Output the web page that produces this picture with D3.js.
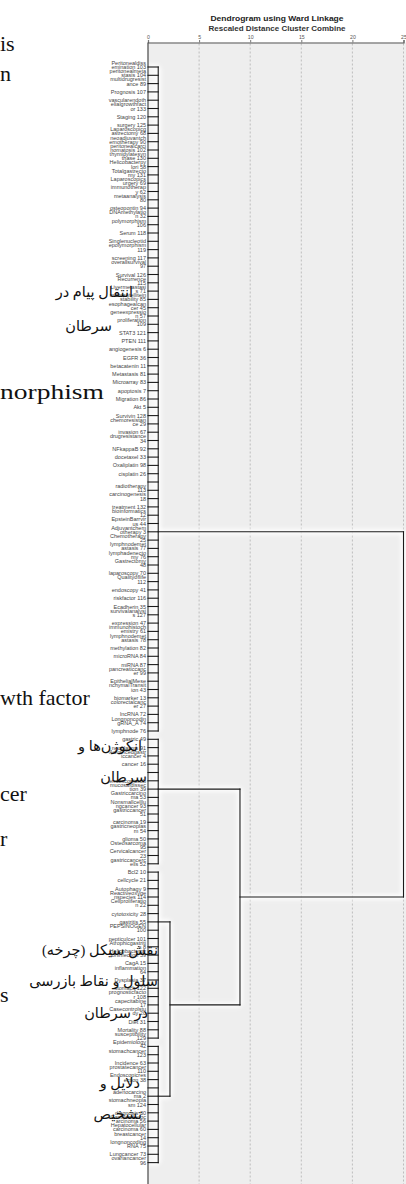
<!DOCTYPE html>
<html><head><meta charset="utf-8">
<script src="https://cdn.jsdelivr.net/npm/d3@7/dist/d3.min.js"></script>
<style>
body{margin:0;background:#fff;overflow:hidden}
svg{display:block}
</style>
</head><body>
<svg id="chart" width="406" height="1184"></svg>
<script>
// ---------------- DATA ----------------
const chartTitle = "Dendrogram using Ward Linkage";
const chartSubtitle = "Rescaled Distance Cluster Combine";
const tickValues = [0, 5, 10, 15, 20, 25];

// leaf labels in dendrogram order (top to bottom); "" = unlabeled row
const leafLabels = [
 "Peritonealdissemination 103","peritonealmetastasis 104","multidrugresistance 89","Prognosis 107","",
 "vascularendothelialgrowthfactor 133","Staging 120","surgery 125","Laparoscopicgastrectomy 68","neoadjuvantchemotherapy 90",
 "peritonealcarcinomatosis 102","thymidylatesynthase 130","Helicobacterpylori 58","Totalgastrectomy 131","Laparoscopicsurgery 69",
 "immunotherapy 62","metaanalysis 80","osteopontin 94","DNAmethylation 32","polymorphism 106",
 "Serum 118","","Singlenucleotidepolymorphism 119","screening 117","overallsurvival 97",
 "Survival 126","Recurrence 115","Livermetastasis 71","microsatelliteinstability 85","esophagealcancer 45",
 "geneexpression 57","proliferation 109","STAT3 121","PTEN 111","angiogenesis 6",
 "EGFR 36","betacatenin 11","Metastasis 81","Microarray 83","apoptosis 7",
 "Migration 86","Akt 5","Survivin 128","chemoresistance 29","invasion 67",
 "drugresistance 34","NFkappaB 92","docetaxel 33","Oxaliplatin 98","cisplatin 26",
 "","radiotherapy 113","carcinogenesis 18","treatment 132","bioinformatics 12",
 "EpsteinBarrvirus 44","Adjuvantchemotherapy 3","Chemotherapy 25","lymphnodemetastasis 77","lymphadenectomy 76",
 "Gastrectomy 48","laparoscopy 70","Qualityoflife 112","endoscopy 41","riskfactor 116",
 "Ecadherin 35","survivalanalysis 127","expression 47","immunohistochemistry 61","lymphnodemetastasis 78",
 "methylation 82","microRNA 84","miRNA 87","pancreaticcancer 99","",
 "EpithelialMesenchymalTransition 43","biomarker 13","colorectalcancer 27","lncRNA 72","LongnoncodingRNA_A 74",
 "lymphnode 76",
 "gastric 49","neoplasms 91","Advancedgastriccancer 4","cancer 16","",
 "","endoscopicsubmucosaldissection 39","Gastriccarcinoma 53","Nonsmallcelllungcancer 93","gastriccancer 51",
 "carcinoma 19","gastricneoplasm 54","glioma 50","Osteosarcoma 95","Cervicalcancer 23",
 "gastriccancercells 52",
 "Bcl2 10","cellcycle 21","Autophagy 9","Reactiveoxygenspecies 114","Cellproliferation 22",
 "cytotoxicity 28","gastritis 55","PEPSINOGEN 100","pepticulcer 101","Atrophicgastritis 8",
 "Helicobacterpyloriinfection 59","CagA 15","inflammation 64","Dysplasia 37","stomach 122",
 "prognosticfactor 108","capecitabine 17","Casecontrolstudy 20","Diet 31","Mortality 88",
 "susceptibility 129",
 "Epidemiology 42","stomachcancer 123","Incidence 63","prostatecancer 110","Endoscopicresection 38",
 "","adenocarcinoma 2","stomachneoplasm 124","diagnosis 30","Gastricadenocarcinoma 56",
 "Hepatocellularcarcinoma 60","breastcancer 14","longnoncodingRNA 75","Lungcancer 73","ovariancancer 96"
];

// leaf clusters (first / last leaf row, merge distance, row of the joining line)
const groupNames    = ["G1", "G2", "G3", "G4"];
const groupFirst    = [0, 81, 97, 118];
const groupLast     = [80, 96, 117, 132];
const groupHeight   = [1.0, 1.0, 1.0, 1.0];
const groupJoinRow  = [56, 87, 103, 124];

// higher merges
const mergeNames    = ["B2", "B", "root"];
const mergeChildren = [["G3","G4"], ["G2","B2"], ["G1","B"]];
const mergeHeight   = [2.15, 9.0, 25];
const mergeJoinRow  = [113, 100, null];

// surrounding document text fragments (row = vertical position in leaf rows)
const latinFragments = [
 {t:"is", row:-2.8, len:0}, {t:"n", row:0.8, len:0}, {t:"norphism", row:39.2, len:104},
 {t:"wth factor", row:76, len:0}, {t:"cer", row:87.6, len:0}, {t:"r", row:93, len:0}, {t:"s", row:111.8, len:0}
];
const persianFragments = [
 {t:"انتقال پیام در", row:27.1, r:133},
 {t:"سرطان", row:31.1, r:112},
 {t:"انکوژن‌ها و", row:81.8, r:142},
 {t:"سرطان", row:85.5, r:147},
 {t:"نقش سیکل (چرخه)", row:106.3, r:158},
 {t:"سلول و نقاط بازرسی", row:110.1, r:158},
 {t:"در سرطان", row:113.9, r:148},
 {t:"دلایل و", row:122.4, r:140},
 {t:"تشخیص", row:126.1, r:142}
];

// ---------------- DRAW ----------------
const W = 406, H = 1184;
const svg = d3.select("#chart");
const x = d3.scaleLinear().domain([0, 25]).range([148, 403.5]);
const y = d3.scaleLinear().domain([0, leafLabels.length - 1]).range([67, 1162.6]);
const plotTop = 42.5;

const defs = svg.append("defs");
const blur = defs.append("filter").attr("id","glow").attr("x","-50%").attr("y","-50%").attr("width","200%").attr("height","200%");
blur.append("feGaussianBlur").attr("stdDeviation", 2.2);

// plot background
svg.append("rect").attr("x", x(0)).attr("y", plotTop).attr("width", W - x(0)).attr("height", H - plotTop)
  .attr("fill", "#eeeeee");

// grid lines
svg.append("g").selectAll("line").data(tickValues.filter(d => d > 0)).join("line")
  .attr("x1", d => x(d)).attr("x2", d => x(d)).attr("y1", plotTop + 1).attr("y2", H)
  .attr("stroke", "#bdbdbd").attr("stroke-width", 1).attr("stroke-dasharray", "2,2");

// titles
svg.append("text").attr("x", 277).attr("y", 20.5).attr("text-anchor","middle")
  .attr("font-family","'Liberation Sans', Arial, sans-serif").attr("font-weight","bold").attr("font-size", 7)
  .attr("fill","#222").attr("textLength", 133).attr("lengthAdjust","spacingAndGlyphs").text(chartTitle);
svg.append("text").attr("x", 277).attr("y", 31).attr("text-anchor","middle")
  .attr("font-family","'Liberation Sans', Arial, sans-serif").attr("font-weight","bold").attr("font-size", 6.5)
  .attr("fill","#333").attr("textLength", 137).attr("lengthAdjust","spacingAndGlyphs").text(chartSubtitle);

// axis
const axis = d3.axisTop(x).tickValues(tickValues).tickSize(2.5).tickPadding(1.5);
const ag = svg.append("g").attr("transform", `translate(0,${plotTop})`).call(axis);
ag.select(".domain").attr("stroke","#555").attr("stroke-width",1.2);
ag.selectAll(".tick line").attr("stroke","#777");
ag.selectAll(".tick text").attr("font-family","'Liberation Sans', Arial, sans-serif").attr("font-size",5.2).attr("fill","#555");

// build node table
const nodes = {};
groupNames.forEach((g, i) => nodes[g] = {h: groupHeight[i], row: groupJoinRow[i], first: groupFirst[i], last: groupLast[i]});
mergeNames.forEach((m, i) => nodes[m] = {h: mergeHeight[i], row: mergeJoinRow[i], children: mergeChildren[i]});

const segs = [];
groupNames.forEach(g => {
  const n = nodes[g];
  for (let r = n.first; r <= n.last; r++) segs.push([x(0), y(r), x(n.h), y(r)]);
  segs.push([x(n.h), y(n.first), x(n.h), y(n.last)]);
});
mergeNames.forEach(m => {
  const n = nodes[m];
  const [a, b] = n.children.map(c => nodes[c]);
  segs.push([x(n.h), y(a.row), x(n.h), y(b.row)]);
  [a, b].forEach(c => segs.push([x(c.h), y(c.row), x(n.h), y(c.row)]));
});

// white glow under lines
svg.append("g").attr("filter","url(#glow)").selectAll("line").data(segs).join("line")
  .attr("x1", d => d[0]).attr("y1", d => d[1]).attr("x2", d => d[2]).attr("y2", d => d[3])
  .attr("stroke","#ffffff").attr("stroke-width",5);

// label column background
svg.append("rect").attr("x", 0).attr("y", 52).attr("width", x(0) - 1).attr("height", H - 52).attr("fill","#fff");

// frame line
svg.append("line").attr("x1", x(0)).attr("x2", x(0)).attr("y1", plotTop).attr("y2", H)
  .attr("stroke","#555").attr("stroke-width",1.3);

svg.append("g").selectAll("line").data(segs).join("line")
  .attr("x1", d => d[0]).attr("y1", d => d[1]).attr("x2", d => d[2]).attr("y2", d => d[3])
  .attr("stroke","#1a1a1a").attr("stroke-width",1.1).attr("stroke-linecap","square");

// labels with wrapping
const LFS = 5.5, LINE = 4.2;
const ctx = document.createElement("canvas").getContext("2d");
ctx.font = `${LFS * 10}px "Liberation Sans"`;
const maxW = 6.8 * LFS * 10;
function wrap(str) {
  const words = str.split(" ");
  const lines = [];
  let cur = "";
  words.forEach(w => {
    const trial = cur ? cur + " " + w : w;
    if (ctx.measureText(trial).width <= maxW) { cur = trial; return; }
    if (cur && ctx.measureText(w).width <= maxW) { lines.push(cur); cur = w; return; }
    let s = cur ? cur + " " : "";
    for (const ch of w) {
      if (ctx.measureText(s + ch).width > maxW && s.trim().length) { lines.push(s.trimEnd()); s = ch; }
      else s += ch;
    }
    cur = s;
  });
  if (cur) lines.push(cur);
  return lines;
}
const lg = svg.append("g").attr("font-family","'Liberation Sans', Arial, sans-serif").attr("font-size", LFS).attr("fill","#444");
leafLabels.forEach((lab, i) => {
  if (!lab) return;
  const lines = wrap(lab);
  const n = lines.length;
  lines.forEach((ln, k) => {
    lg.append("text").attr("x", x(0) - 2).attr("y", y(i) + 2 - (n - 1 - k) * LINE)
      .attr("text-anchor","end").text(ln);
  });
});

// document text fragments
const dg = svg.append("g");
latinFragments.forEach(f => {
  const t = dg.append("text").attr("x", 0).attr("y", y(f.row) + 7)
    .attr("font-family","'Liberation Serif','Times New Roman',serif").attr("font-size", 22).attr("fill","#111").text(f.t);
  if (f.len) t.attr("textLength", f.len).attr("lengthAdjust","spacingAndGlyphs");
});
persianFragments.forEach(f => {
  dg.append("text").attr("x", f.r).attr("y", y(f.row) + 5.5)
    .attr("direction","rtl").attr("text-anchor","start")
    .attr("font-family","'Times New Roman','DejaVu Sans',serif").attr("font-size", 14.5).attr("fill","#111").text(f.t);
});
</script>
</body></html>
